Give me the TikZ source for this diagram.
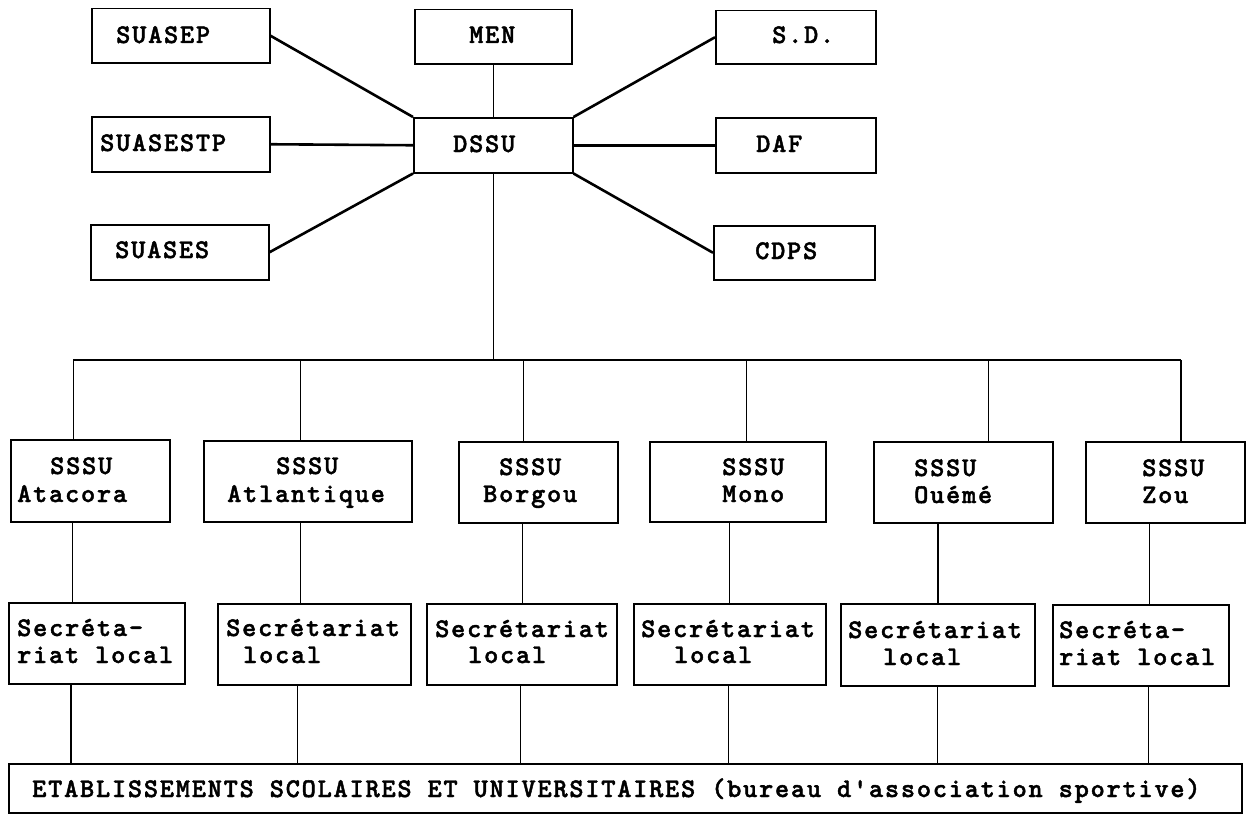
\documentclass[tikz,border=0pt]{standalone}
\usepackage{fontspec}
\newfontfamily\courf[LetterSpace=6.6,FakeBold=1.6]{lmmonolt10-bold.otf}
\begin{document}
\begin{tikzpicture}[x=1pt,y=-1pt,
  box/.style={draw, line width=1.5pt, inner sep=0pt, anchor=north west},
  txt/.style={anchor=base west, inner sep=0pt, font=\courf\fontsize{27}{28}\selectfont},
  thin/.style={line width=1pt},
  thick/.style={line width=2.6pt},
  mid/.style={line width=1.8pt}]
\useasboundingbox (0,0) rectangle (1246,816);
% top boxes
\node[box, minimum width=178pt, minimum height=54pt] (SUASEP) at (91,8) {};
\node[box, minimum width=178pt, minimum height=55pt] (SUASESTP) at (91,116) {};
\node[box, minimum width=178pt, minimum height=55pt] (SUASES) at (90,224) {};
\node[box, minimum width=157pt, minimum height=54pt] (MEN) at (414,9) {};
\node[box, minimum width=159pt, minimum height=55pt] (DSSU) at (413,117) {};
\node[box, minimum width=160pt, minimum height=53pt] (SD) at (715,10) {};
\node[box, minimum width=160pt, minimum height=55pt] (DAF) at (715,117) {};
\node[box, minimum width=161pt, minimum height=54pt] (CDPS) at (713,225) {};
% SSSU boxes
\node[box, minimum width=159pt, minimum height=82pt] (A1) at (10,439) {};
\node[box, minimum width=208pt, minimum height=81pt] (A2) at (203,440) {};
\node[box, minimum width=159pt, minimum height=81pt] (A3) at (458,441) {};
\node[box, minimum width=176pt, minimum height=80pt] (A4) at (649,441) {};
\node[box, minimum width=179pt, minimum height=81pt] (A5) at (873,441) {};
\node[box, minimum width=159pt, minimum height=81pt] (A6) at (1085,441) {};
% secretariat boxes
\node[box, minimum width=176pt, minimum height=81pt] (S1) at (8,602) {};
\node[box, minimum width=193pt, minimum height=81pt] (S2) at (217,603) {};
\node[box, minimum width=190pt, minimum height=81pt] (S3) at (426,603) {};
\node[box, minimum width=192pt, minimum height=81pt] (S4) at (633,603) {};
\node[box, minimum width=194pt, minimum height=82pt] (S5) at (840,603) {};
\node[box, minimum width=176pt, minimum height=81pt] (S6) at (1052,604) {};
% bottom box
\node[box, minimum width=1233pt, minimum height=49pt] (E) at (8,763) {};
% texts
\node[txt] (tSUASEP) at (116,43) {SUASEP};
\node[txt] (tSUASESTP) at (100,151) {SUASESTP};
\node[txt] (tSUASES) at (115,258) {SUASES};
\node[txt] (tMEN) at (469,43) {MEN};
\node[txt] (tDSSU) at (453,152) {DSSU};
\node[txt] (tSD) at (772,43) {S.D.};
\node[txt] (tDAF) at (756,152) {DAF};
\node[txt] (tCDPS) at (755,259) {CDPS};
\node[txt] (a1a) at (50,474) {SSSU};
\node[txt] (a1b) at (17,502) {Atacora};
\node[txt] (a2a) at (276,474) {SSSU};
\node[txt] (a2b) at (227,502) {Atlantique};
\node[txt] (a3a) at (499,475) {SSSU};
\node[txt] (a3b) at (483,502) {Borgou};
\node[txt] (a4a) at (722,475) {SSSU};
\node[txt] (a4b) at (722,502) {Mono};
\node[txt] (a5a) at (914,476) {SSSU};
\node[txt] (a5b) at (914,503) {Ouémé};
\node[txt] (a6a) at (1142,476) {SSSU};
\node[txt] (a6b) at (1142,503) {Zou};
\node[txt] (s1a) at (17,636) {Secréta-};
\node[txt] (s1b) at (17,663) {riat local};
\node[txt] (s2a) at (226,636) {Secrétariat};
\node[txt] (s2b) at (243,663) {local};
\node[txt] (s3a) at (435,637) {Secrétariat};
\node[txt] (s3b) at (468,663) {local};
\node[txt] (s4a) at (641,637) {Secrétariat};
\node[txt] (s4b) at (674,663) {local};
\node[txt] (s5a) at (848,638) {Secrétariat};
\node[txt] (s5b) at (883,665) {local};
\node[txt] (s6a) at (1059,638) {Secréta-};
\node[txt] (s6b) at (1059,665) {riat local};
\node[txt] (tE) at (32,797) {ETABLISSEMENTS SCOLAIRES ET UNIVERSITAIRES (bureau d'association sportive)};
% top connectors
\draw[thin] (MEN.south) -- (DSSU.north);
\draw[thick] (SUASEP.east) -- (DSSU.north west);
\draw[thick] (SUASESTP.east) -- (DSSU.west);
\draw[thick] (SUASES.east) -- (DSSU.south west);
\draw[thick] (DSSU.north east) -- (SD.west);
\draw[thick] (DSSU.east) -- (DAF.west);
\draw[thick] (DSSU.south east) -- (CDPS.west);
% bus
\coordinate (d1) at (73,360);
\coordinate (d2) at (300,360);
\coordinate (d3) at (523,360);
\coordinate (d4) at (746,360);
\coordinate (d5) at (988,360);
\coordinate (d6) at (1181,360);
\draw[thin] (DSSU.south) -- (DSSU.south |- d1);
\draw[mid] (d1) -- (d6);
\draw[thin] (d1) -- (d1 |- A1.north);
\draw[thin] (d2) -- (d2 |- A2.north);
\draw[thin] (d3) -- (d3 |- A3.north);
\draw[thin] (d4) -- (d4 |- A4.north);
\draw[thin] (d5) -- (d5 |- A5.north);
\draw[mid] (d6) -- (d6 |- A6.north);
% SSSU to secretariat
\coordinate (m1) at (72,0);
\coordinate (m2) at (300,0);
\coordinate (m3) at (522,0);
\coordinate (m4) at (729,0);
\coordinate (m5) at (938,0);
\coordinate (m6) at (1149,0);
\draw[thin] (A1.south -| m1) -- (S1.north -| m1);
\draw[thin] (A2.south -| m2) -- (S2.north -| m2);
\draw[thin] (A3.south -| m3) -- (S3.north -| m3);
\draw[thin] (A4.south -| m4) -- (S4.north -| m4);
\draw[mid] (A5.south -| m5) -- (S5.north -| m5);
\draw[thin] (A6.south -| m6) -- (S6.north -| m6);
% secretariat to bottom
\coordinate (b1) at (71,0);
\coordinate (b2) at (297,0);
\coordinate (b3) at (520,0);
\coordinate (b4) at (728,0);
\coordinate (b5) at (937,0);
\coordinate (b6) at (1148,0);
\draw[mid] (S1.south -| b1) -- (E.north -| b1);
\draw[thin] (S2.south -| b2) -- (E.north -| b2);
\draw[thin] (S3.south -| b3) -- (E.north -| b3);
\draw[thin] (S4.south -| b4) -- (E.north -| b4);
\draw[thin] (S5.south -| b5) -- (E.north -| b5);
\draw[thin] (S6.south -| b6) -- (E.north -| b6);
\end{tikzpicture}
\end{document}
